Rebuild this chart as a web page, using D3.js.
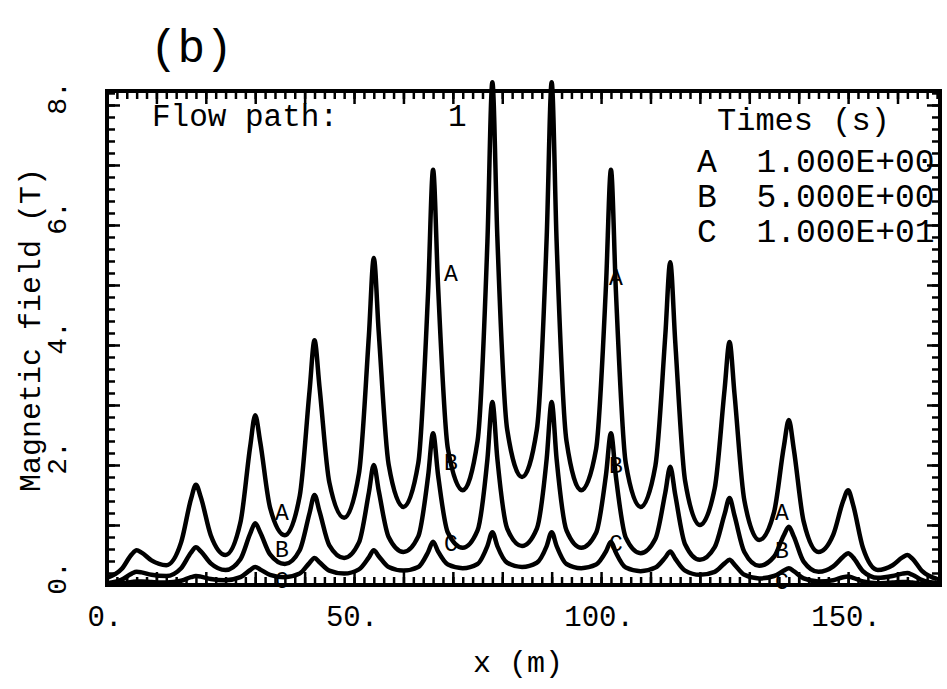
<!DOCTYPE html>
<html>
<head>
<meta charset="utf-8">
<script src="https://cdn.jsdelivr.net/npm/d3@7"></script>
<style>
body { margin: 0; background: #fff; }
text { font-family: "Liberation Mono", "Courier New", monospace; fill: #000; }
</style>
</head>
<body>
<div id="chart"></div>
<script>
// positions along the flow path (m)
var xPos = [0, 3, 5, 6, 7, 9, 12, 15, 17, 18, 19, 21, 24, 27, 29, 30, 31, 33,
    36, 39, 41, 42, 43, 45, 48, 51, 53, 54, 55, 57, 60, 63, 65, 66, 67, 69,
    72, 75, 77, 78, 79, 81, 84, 87, 89, 90, 91, 93, 96, 99, 101, 102, 103, 105,
    108, 111, 113, 114, 115, 117, 120, 123, 125, 126, 127, 129, 132, 135, 137, 138, 139, 141,
    144, 147, 149, 150, 151, 153, 156, 159, 161, 162, 163, 165, 168];

// magnetic field (T) at t = 1 s
var fieldA = [0.12, 0.27, 0.51, 0.58, 0.54, 0.41, 0.33, 0.71, 1.43, 1.67, 1.46, 0.83,
    0.50, 1.04, 2.32, 2.83, 2.39, 1.29, 0.83, 1.48, 3.24, 4.08, 3.31, 1.71,
    1.12, 1.86, 4.15, 5.45, 4.21, 2.01, 1.30, 2.03, 4.90, 6.92, 5.00, 2.27,
    1.58, 2.40, 5.73, 8.38, 5.81, 2.59, 1.80, 2.59, 5.81, 8.38, 5.73, 2.40,
    1.58, 2.27, 5.00, 6.92, 4.90, 2.03, 1.30, 1.99, 4.16, 5.38, 4.07, 1.74,
    1.00, 1.61, 3.26, 4.05, 3.19, 1.41, 0.75, 1.21, 2.31, 2.75, 2.27, 1.06,
    0.55, 0.84, 1.40, 1.58, 1.34, 0.62, 0.25, 0.33, 0.46, 0.50, 0.44, 0.23, 0.10];

// t = 5 s
var fieldB = [0.03, 0.09, 0.19, 0.22, 0.21, 0.17, 0.15, 0.28, 0.54, 0.63, 0.56, 0.36,
    0.25, 0.43, 0.86, 1.03, 0.88, 0.51, 0.35, 0.58, 1.20, 1.50, 1.23, 0.66,
    0.45, 0.71, 1.54, 2.00, 1.57, 0.80, 0.55, 0.81, 1.82, 2.53, 1.84, 0.87,
    0.62, 0.91, 2.10, 3.05, 2.11, 0.94, 0.65, 0.94, 2.11, 3.05, 2.10, 0.91,
    0.62, 0.87, 1.84, 2.53, 1.81, 0.79, 0.53, 0.77, 1.54, 1.97, 1.51, 0.68,
    0.42, 0.63, 1.18, 1.45, 1.16, 0.55, 0.32, 0.47, 0.83, 0.97, 0.81, 0.39,
    0.22, 0.31, 0.47, 0.53, 0.46, 0.23, 0.12, 0.15, 0.19, 0.20, 0.17, 0.08, 0.03];

// t = 10 s
var fieldC = [0.01, 0.03, 0.05, 0.06, 0.06, 0.05, 0.04, 0.07, 0.13, 0.15, 0.14, 0.10,
    0.08, 0.13, 0.25, 0.30, 0.26, 0.17, 0.13, 0.19, 0.37, 0.45, 0.38, 0.24,
    0.19, 0.26, 0.46, 0.58, 0.48, 0.30, 0.24, 0.30, 0.55, 0.72, 0.56, 0.34,
    0.28, 0.35, 0.65, 0.88, 0.65, 0.37, 0.30, 0.37, 0.65, 0.88, 0.65, 0.35,
    0.28, 0.34, 0.56, 0.72, 0.54, 0.29, 0.23, 0.29, 0.46, 0.56, 0.44, 0.24,
    0.17, 0.22, 0.36, 0.42, 0.34, 0.17, 0.11, 0.15, 0.24, 0.28, 0.23, 0.11,
    0.06, 0.08, 0.13, 0.14, 0.12, 0.06, 0.03, 0.04, 0.05, 0.05, 0.04, 0.02, 0.01];

var seriesNames = ["A", "B", "C"];
var seriesTimes = ["1.000E+00", "5.000E+00", "1.000E+01"];

// where the curve letters sit on the plot (x in m, field in T)
var letterX = [35.4, 69.6, 103, 136.6];
var letterA = [1.22, 5.2, 5.13, 1.22];
var letterB = [0.6, 2.05, 2.0, 0.58];
var letterC = [0.08, 0.7, 0.7, 0.07];

var xTickVals = [0, 50, 100, 150];
var xTickText = ["0.", "50.", "100.", "150."];
var yTickVals = [0, 2, 4, 6, 8];
var yTickText = ["0.", "2.", "4.", "6.", "8."];

//svg size
var svgWidth = 947;
var svgHeight = 689;
var margin = { top: 91, right: 7, bottom: 104, left: 107 };
var chartWidth = svgWidth - margin.left - margin.right;
var chartHeight = svgHeight - margin.top - margin.bottom;

var svg = d3.select("#chart")
    .append("svg")
    .attr("width", svgWidth)
    .attr("height", svgHeight);

var chartGroup = svg.append("g")
    .attr("transform", `translate(${margin.left}, ${margin.top})`);

//scales
var xScale = d3.scaleLinear().domain([0, 168.6]).range([0, chartWidth]);
var yScale = d3.scaleLinear().domain([0, 8.233]).range([chartHeight, 0]);

//tick marks on all four sides, pointing inwards
var xMinor = d3.range(0, 169, 2);
var xMajor = d3.range(0, 169, 10);
var yMinor = d3.range(0, 8.21, 0.2);
var yMajor = d3.range(0, 8.1, 1);

function tickGroup(axis, transform, size) {
    var g = chartGroup.append("g")
        .attr("transform", transform)
        .call(axis.tickSize(size).tickSizeOuter(0).tickFormat(""));
    g.select(".domain").remove();
    g.selectAll("line").attr("stroke", "#000").attr("stroke-width", 2.5);
}
tickGroup(d3.axisBottom(xScale).tickValues(xMinor), `translate(0, ${chartHeight})`, -8);
tickGroup(d3.axisBottom(xScale).tickValues(xMajor), `translate(0, ${chartHeight})`, -13);
tickGroup(d3.axisTop(xScale).tickValues(xMinor), "translate(0, 0)", -8);
tickGroup(d3.axisTop(xScale).tickValues(xMajor), "translate(0, 0)", -13);
tickGroup(d3.axisLeft(yScale).tickValues(yMinor), "translate(0, 0)", -8);
tickGroup(d3.axisLeft(yScale).tickValues(yMajor), "translate(0, 0)", -13);
tickGroup(d3.axisRight(yScale).tickValues(yMinor), `translate(${chartWidth}, 0)`, -8);
tickGroup(d3.axisRight(yScale).tickValues(yMajor), `translate(${chartWidth}, 0)`, -13);

//frame
chartGroup.append("rect")
    .attr("width", chartWidth)
    .attr("height", chartHeight)
    .attr("fill", "none")
    .attr("stroke", "#000")
    .attr("stroke-width", 4);

//curves
var line = d3.line()
    .x(d => xScale(d[0]))
    .y(d => yScale(d[1]))
    .curve(d3.curveMonotoneX);

[fieldA, fieldB, fieldC].forEach(function(vals) {
    chartGroup.append("path")
        .datum(xPos.map((x, i) => [x, vals[i]]))
        .attr("d", line)
        .attr("fill", "none")
        .attr("stroke", "#000")
        .attr("stroke-width", 4.5)
        .attr("stroke-linejoin", "round");
});

//curve letters
[letterA, letterB, letterC].forEach(function(ys, s) {
    ys.forEach(function(v, i) {
        chartGroup.append("text")
            .attr("x", xScale(letterX[i]))
            .attr("y", yScale(v))
            .attr("dy", "0.35em")
            .attr("text-anchor", "middle")
            .attr("font-size", 23)
            .text(seriesNames[s]);
    });
});

//tick labels
chartGroup.selectAll(".xlab").data(xTickVals).enter().append("text")
    .attr("x", d => xScale(d) - 2)
    .attr("y", chartHeight + 41)
    .attr("text-anchor", "middle")
    .attr("font-size", 29)
    .text((d, i) => xTickText[i]);

chartGroup.selectAll(".ylab").data(yTickVals).enter().append("text")
    .attr("transform", d => `translate(${66 - margin.left}, ${yScale(d) - 7}) rotate(-90)`)
    .attr("text-anchor", "middle")
    .attr("font-size", 28)
    .text((d, i) => yTickText[i]);

//axis titles
svg.append("text")
    .attr("x", 518)
    .attr("y", 672)
    .attr("text-anchor", "middle")
    .attr("font-size", 30)
    .text("x (m)");
svg.append("text")
    .attr("transform", "translate(40, 330) rotate(-90)")
    .attr("text-anchor", "middle")
    .attr("font-size", 30)
    .text("Magnetic field (T)");

//panel label
svg.append("text")
    .attr("x", 150)
    .attr("y", 62)
    .attr("font-family", "DejaVu Sans")
    .attr("font-size", 46)
    .text("(b)");

//in-plot annotations
svg.append("text").attr("x", 152).attr("y", 126).attr("font-size", 31).text("Flow path:");
svg.append("text").attr("x", 448).attr("y", 126).attr("font-size", 31).text("1");
svg.append("text").attr("x", 717).attr("y", 130).attr("font-size", 32).text("Times (s)");
seriesNames.forEach(function(n, i) {
    svg.append("text")
        .attr("x", 697)
        .attr("y", 172 + i * 35)
        .attr("font-size", 33)
        .attr("xml:space", "preserve")
        .text(n + "  " + seriesTimes[i]);
});
</script>
</body>
</html>
